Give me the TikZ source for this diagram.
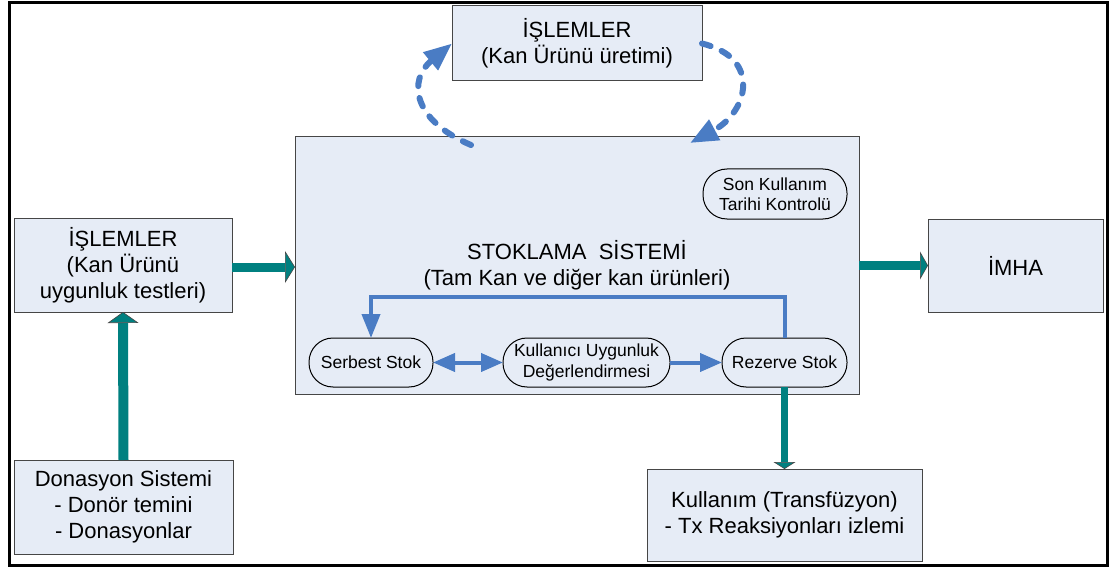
\documentclass[tikz,border=0pt]{standalone}
\usepackage{fontspec}
\setmainfont{Liberation Sans}
\usetikzlibrary{arrows.meta}
\definecolor{boxfill}{RGB}{230,236,246}
\definecolor{boxline}{RGB}{70,70,70}
\definecolor{flowblue}{RGB}{74,124,196}
\definecolor{tealflow}{RGB}{0,128,128}

\begin{document}
\begin{tikzpicture}[x=1pt,y=-1pt,inner sep=0pt,outer sep=0pt,
bigbox/.style={draw=boxline,fill=boxfill,line width=1pt,rectangle,align=center,font=\fontsize{22}{26}\selectfont},
stockbox/.style={draw=black,fill=boxfill,line width=1pt,rounded corners=24pt,minimum height=49pt,align=center,font=\fontsize{17.5}{20.5}\selectfont},
tealarrow/.style={draw=tealflow,line width=9pt,-{Triangle[width=32pt,length=10pt,color=boxline,fill=tealflow,line width=0.6pt]}},
bluearrow/.style={draw=flowblue,line width=4pt,-{Triangle[width=18pt,length=24pt]}},
dasharrow/.style={draw=flowblue,line width=6pt,line cap=round,dash pattern=on 9pt off 12pt,-{Triangle[width=22pt,length=28pt]}}]

\useasboundingbox (0,0) rectangle (1109,567);
\draw[line width=3pt] (9.5,2.5) rectangle (1107,565.5);

% ana kutular
\draw (577,43.5) node[bigbox,minimum width=250pt,minimum height=75pt] (islemT) {İŞLEMLER\\(Kan Ürünü üretimi)};
\draw (577,265.5) node[bigbox,minimum width=564pt,minimum height=257pt] (stok) {STOKLAMA\ \ SİSTEMİ\\(Tam Kan ve diğer kan ürünleri)};
\draw (123,265) node[bigbox,minimum width=218pt,minimum height=94pt] (islemL) {İŞLEMLER\\(Kan Ürünü\\uygunluk testleri)};
\draw (123.5,507) node[bigbox,minimum width=219pt,minimum height=94pt] (donasyon) {Donasyon Sistemi\\- Donör temini\\- Donasyonlar};
\draw (1015.5,265.5) node[bigbox,minimum width=175pt,minimum height=93pt] (imha) {İMHA};
\draw (784.5,515) node[bigbox,minimum width=275pt,minimum height=92pt] (kullanim) {Kullanım (Transfüzyon)\\- Tx Reaksiyonları izlemi};

% stok icindeki durumlar
\draw (775,194) node[stockbox,minimum width=144pt,minimum height=50pt] (sonk) {Son Kullanım\\Tarihi Kontrolü};
\draw (371,362.5) node[stockbox,minimum width=124pt] (serbest) {Serbest Stok};
\draw (586.5,362.5) node[stockbox,minimum width=167pt] (kullanici) {Kullanıcı Uygunluk\\Değerlendirmesi};
\draw (784.5,362.5) node[stockbox,minimum width=125pt] (rezerve) {Rezerve Stok};

\draw[tealarrow] (islemL.east |- 0,267) -- (stok.west |- 0,267);
\draw[tealarrow,-{Triangle[width=28pt,length=8pt,color=boxline,fill=tealflow,line width=0.6pt]}] (stok.east) -- (imha.west);
\draw[tealarrow,line width=10pt,-{Triangle[width=31pt,length=11pt,color=boxline,fill=tealflow,line width=0.6pt]}] (donasyon.north) -- (islemL.south);
\draw[tealarrow,line width=7pt,-{Triangle[width=22pt,length=7pt,color=boxline,fill=tealflow,line width=0.6pt]}] (rezerve.south) -- (kullanim.north);

\draw[bluearrow] (rezerve.north) -- ++(0,-41) -| (serbest.north);
\draw[bluearrow,{Triangle[width=18pt,length=22pt]}-{Triangle[width=18pt,length=22pt]}] (serbest.east) -- (kullanici.west);
\draw[bluearrow,-{Triangle[width=18pt,length=22pt]}] (kullanici.east) -- (rezerve.west);

\coordinate (donusA) at ([xshift=-106pt,yshift=-8pt]stok.north);
\coordinate (donusB) at ([xshift=113pt,yshift=-6pt]stok.north);
\draw[dasharrow] (donusA) .. controls (412,120) and (408,80) .. (islemT.west);
\draw[dasharrow] (islemT.east) .. controls (762,58) and (748,112) .. (donusB);
\end{tikzpicture}
\end{document}
